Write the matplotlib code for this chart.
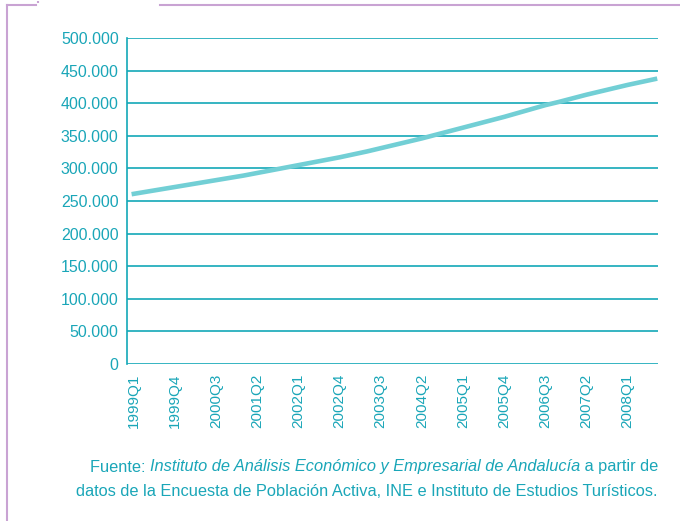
import matplotlib
matplotlib.use("Agg")
import matplotlib.pyplot as plt
from matplotlib.lines import Line2D

quarters = [f"{y}Q{q}" for y in range(1999, 2009) for q in range(1, 5)][:39]
values = [261, 264.5, 268, 271.5, 275, 278.5, 282, 285.5, 289, 293,
          297, 301, 305, 309, 313, 317, 321.5, 326, 331, 336,
          341, 346, 351.5, 357, 362.5, 368, 373.5, 379, 385, 391,
          397, 402, 407.5, 413, 418, 423, 428, 432.5, 437]
values = [v * 1000 for v in values]
y_ticks = list(range(0, 500001, 50000))
y_labels = ["0", "50.000", "100.000", "150.000", "200.000", "250.000",
            "300.000", "350.000", "400.000", "450.000", "500.000"]

TEXT = "#1aa6b8"
GRID = "#13a8b8"
LINE = "#72cfd5"
FRAME = "#c9a3d3"

W, H = 680, 521
fig = plt.figure(figsize=(W / 100, H / 100), dpi=100)
ax = fig.add_axes([127 / W, 1 - 364 / H, (658 - 127) / W, (364 - 38) / H])

x = list(range(len(quarters)))
ax.plot(x, values, color=LINE, lw=3.3, solid_capstyle="projecting", zorder=3)
ax.set_xlim(-0.5, len(quarters) - 0.78)
ax.set_ylim(0, 500000)
ax.set_yticks(y_ticks)
ax.set_yticklabels(y_labels)
ax.set_xticks(x[::3])
ax.set_xticklabels(quarters[::3], rotation=90)
for s in ["top", "right", "bottom"]:
    ax.spines[s].set_visible(False)
ax.spines["left"].set_color(GRID)
ax.spines["left"].set_linewidth(1.2)
ax.grid(axis="y", color=GRID, lw=1.2)
ax.set_axisbelow(True)
ax.tick_params(length=0, colors=TEXT, labelsize=11.5, pad=6)
ax.tick_params(axis="x", labelsize=11, pad=7)
for lab in ax.get_xticklabels() + ax.get_yticklabels():
    lab.set_fontfamily("Liberation Sans")
    lab.set_color(TEXT)

# frame decoration
fig.add_artist(Line2D([7 / W, 36 / W], [1 - 5 / H, 1 - 5 / H], color=FRAME, lw=1.5))
fig.add_artist(Line2D([160 / W, 1], [1 - 5 / H, 1 - 5 / H], color=FRAME, lw=1.5))
fig.add_artist(Line2D([7 / W, 7 / W], [0, 1 - 5 / H], color=FRAME, lw=1.5))
fig.add_artist(Line2D([37.5 / W, 37.5 / W], [1 - 1 / H, 1 - 3 / H], color=FRAME, lw=1.5, ls=":"))

# caption
renderer = fig.canvas.get_renderer()
fam = "Liberation Sans"
def line_of(parts, y_px, right_px):
    texts = []
    xpos = 0
    for s, style in parts:
        t = fig.text(xpos / W, 1 - y_px / H, s, color=TEXT, fontsize=11.8,
                     family=fam, style=style, va="center", ha="left")
        bb = t.get_window_extent(renderer)
        texts.append(t)
        xpos += bb.width
    shift = right_px - xpos
    cur = shift
    for t in texts:
        t.set_x(cur / W)
        cur += t.get_window_extent(renderer).width

line_of([("Fuente: ", "normal"),
         ("Instituto de Análisis Económico y Empresarial de Andalucía", "italic"),
         (" a partir de", "normal")], 467, 658)
line_of([("datos de la Encuesta de Población Activa, INE e Instituto de Estudios Turísticos.", "normal")], 492, 658)

fig.savefig("out.png", dpi=100)
